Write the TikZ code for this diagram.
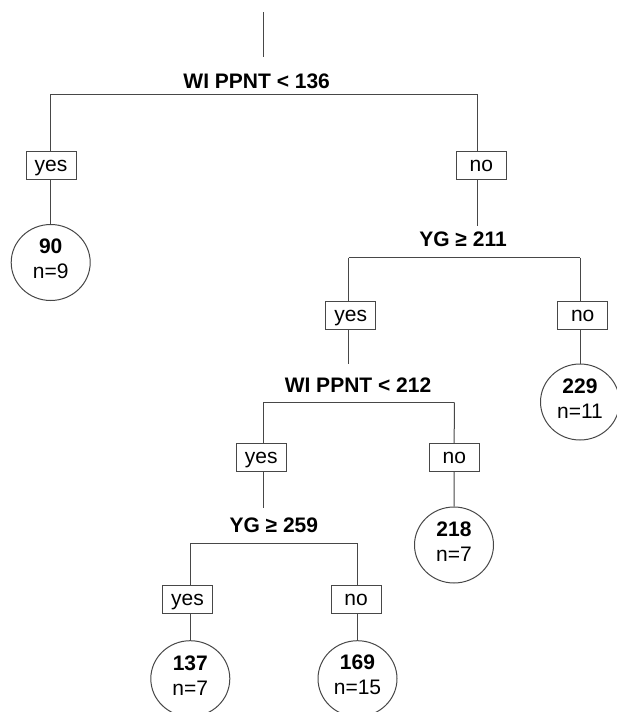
\documentclass[tikz,border=0pt]{standalone}
\usepackage{fontspec}
\setmainfont{Liberation Sans}
\usetikzlibrary{shapes.geometric,backgrounds}
\begin{document}
\begin{tikzpicture}[x=1pt,y=-1pt,
  every node/.style={font=\fontsize{21}{25}\selectfont},
  edge/.style={draw=black!72,line width=1pt},
  splittext/.style={anchor=base,inner sep=0pt,font=\fontsize{21}{25}\selectfont\bfseries},
  ansbox/.style={draw=black!72,line width=1pt,fill=white,rectangle,minimum width=50pt,minimum height=28pt,inner sep=0pt,text height=12pt,text depth=0pt},
  leaf/.style={draw=black!72,line width=1pt,fill=white,ellipse,minimum width=79pt,minimum height=76pt,inner sep=0pt},
  leaftext/.style={align=center,inner sep=0pt}
]
\clip (0,0) rectangle (617,712);

% coordinates of bars and ends
\coordinate (root) at (263.7,12);
\coordinate (rootend) at (263.7,56.7);
\coordinate (b1l) at (50.7,94.3);
\coordinate (b1r) at (477,94.3);
\coordinate (e2) at (477,225.7);
\coordinate (b2l) at (348.7,257.7);
\coordinate (b2r) at (580,257.7);
\coordinate (e3) at (348.7,364.3);
\coordinate (b3l) at (263.3,402.3);
\coordinate (b3r) at (454.3,402.3);
\coordinate (e4) at (263.3,508.3);
\coordinate (b4l) at (190.3,543.3);
\coordinate (b4r) at (357.5,543.3);

% split labels
\node[splittext] (s1) at (256.7,88.3) {WI PPNT < 136};
\node[splittext] (s2) at (463,246.7) {YG ≥ 211};
\node[splittext] (s3) at (358,392.3) {WI PPNT < 212};
\node[splittext] (s4) at (273.8,532.3) {YG ≥ 259};

% answer boxes
\node[ansbox] (yes1) at (51,165.3) {yes};
\node[ansbox] (no1) at (481.3,165.3) {no};
\node[ansbox] (yes2) at (350.8,315.7) {yes};
\node[ansbox] (no2) at (582.7,315.7) {no};
\node[ansbox] (yes3) at (261.3,457) {yes};
\node[ansbox] (no3) at (454.3,457) {no};
\node[ansbox] (yes4) at (187.5,599.5) {yes};
\node[ansbox] (no4) at (356,599.5) {no};

% leaves
\node[leaf] (c90) at (50.7,262.5) {};
\node[leaftext] at ([yshift=3.5pt]c90) {\textbf{90}\\n=9};
\node[leaf] (c229) at (580,402) {};
\node[leaftext] at ([yshift=3.5pt]c229) {\textbf{229}\\n=11};
\node[leaf] (c218) at (454,545) {};
\node[leaftext] at ([yshift=3.5pt]c218) {\textbf{218}\\n=7};
\node[leaf] (c137) at (190.3,678.7) {};
\node[leaftext] at ([yshift=3.5pt]c137) {\textbf{137}\\n=7};
\node[leaf] (c169) at (357.5,678.7) {};
\node[leaftext] at ([yshift=3.5pt]c169) {\textbf{169}\\n=15};

\begin{scope}[on background layer]
\fill[white] (0,0) rectangle (617,712);
\draw[edge] (root) -- (rootend);
\draw[edge] (b1l) -- (b1r);
\draw[edge] (b1l) -- (c90);
\draw[edge] (b1r) -- (e2);
\draw[edge] (b2l) -- (b2r);
\draw[edge] (b2l) -- (e3);
\draw[edge] (b2r) -- (c229);
\draw[edge] (b3l) -- (b3r);
\draw[edge] (b3l) -- (e4);
\draw[edge] (b3r) -- (c218);
\draw[edge] (b4l) -- (b4r);
\draw[edge] (b4l) -- (c137);
\draw[edge] (b4r) -- (c169);
\end{scope}
\end{tikzpicture}
\end{document}
